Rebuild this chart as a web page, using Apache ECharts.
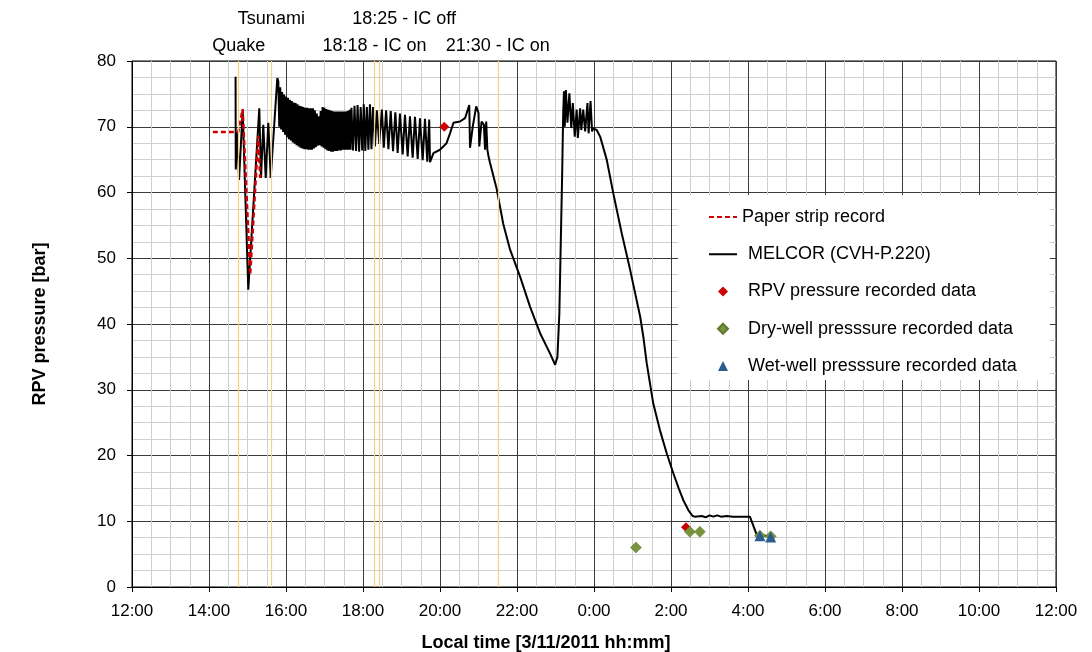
<!DOCTYPE html>
<html lang="en">
<head>
<meta charset="utf-8">
<title>RPV pressure</title>
<script src="https://cdn.jsdelivr.net/npm/echarts@6/dist/echarts.min.js"></script>
<style>
  html, body { margin: 0; padding: 0; background: #fff; }
  #chart { width: 1092px; height: 652px; }
</style>
</head>
<body>
<div id="chart"></div>
<script>
// time in hours from 0:00 on 3/11 (12 = 12:00, 36 = 12:00 next day)
var paperStrip = [[14.10, 69.2], [14.76, 69.2], [14.875, 72.7], [15.07, 47.5], [15.28, 68.6], [15.33, 62.2]];

var melcorStart = [
  [14.69, 77.6], [14.695, 63.5], [14.74, 69.2], [14.78, 61.9], [14.875, 72.5], [15.02, 45.2],
  [15.306, 72.8], [15.351, 62.2], [15.41, 70.3], [15.473, 62.2], [15.54, 70.6], [15.603, 62.2],
  [15.774, 77.4]
];
var melcorBand = [
  [15.80, 76.9], [15.825, 70.0], [15.85, 76.0], [15.875, 69.6], [15.90, 75.3], [15.925, 69.2],
  [15.95, 74.9], [15.975, 68.8], [16.00, 74.6], [16.025, 68.4], [16.05, 74.4], [16.075, 68.1],
  [16.10, 74.1], [16.125, 67.9], [16.15, 73.9], [16.175, 67.6], [16.20, 73.7], [16.225, 67.4],
  [16.25, 73.6], [16.275, 67.2], [16.30, 73.4], [16.325, 67.0], [16.35, 73.2], [16.375, 66.8],
  [16.40, 73.1], [16.425, 66.7], [16.45, 73.0], [16.475, 66.6], [16.50, 72.9], [16.525, 66.6],
  [16.55, 72.9], [16.575, 66.5], [16.60, 72.8], [16.625, 66.5], [16.65, 72.8], [16.675, 66.5],
  [16.70, 72.8], [16.725, 66.7], [16.75, 72.5], [16.775, 66.9], [16.80, 72.0], [16.825, 67.1],
  [16.85, 71.6], [16.875, 67.2], [16.90, 72.4], [16.925, 67.0], [16.95, 73.0], [16.975, 66.8],
  [17.00, 72.9], [17.025, 66.6], [17.05, 72.7], [17.075, 66.4], [17.10, 72.6], [17.125, 66.3],
  [17.15, 72.5], [17.175, 66.2], [17.20, 72.4], [17.225, 66.2], [17.25, 72.3], [17.275, 66.3],
  [17.30, 72.3], [17.325, 66.3], [17.35, 72.3], [17.375, 66.4], [17.40, 72.3], [17.425, 66.4],
  [17.45, 72.3], [17.475, 66.5], [17.50, 72.3], [17.525, 66.5], [17.55, 72.3], [17.575, 66.5],
  [17.60, 72.4], [17.625, 66.5], [17.65, 72.6], [17.675, 66.5], [17.70, 72.9], [17.74, 66.4],
  [17.78, 73.2], [17.82, 66.3], [17.86, 73.3], [17.90, 66.2], [17.94, 73.0], [17.98, 66.4],
  [18.02, 73.4], [18.06, 66.3], [18.10, 73.0], [18.14, 66.5], [18.18, 73.4], [18.22, 66.6]
];
var melcorTeeth = [
  [18.26, 73.0], [18.31, 67.0], [18.36, 72.5], [18.42, 67.4], [18.49, 72.6], [18.54, 66.8],
  [18.60, 72.5], [18.66, 66.6], [18.72, 72.4], [18.78, 66.3], [18.84, 72.2], [18.90, 66.0],
  [18.96, 72.0], [19.03, 65.8], [19.09, 71.8], [19.16, 65.5], [19.22, 71.6], [19.29, 65.3],
  [19.35, 71.5], [19.42, 65.1], [19.48, 71.3], [19.55, 64.9], [19.61, 71.2], [19.67, 64.7],
  [19.72, 71.1], [19.74, 64.6]
];
var melcorLate = [
  [19.83, 66.0], [20.00, 66.5], [20.17, 67.5], [20.26, 69.0], [20.35, 70.6], [20.52, 70.8],
  [20.65, 71.3], [20.76, 73.3], [20.78, 66.8], [20.85, 70.0], [20.94, 73.1], [21.00, 72.1],
  [21.02, 67.0], [21.08, 70.8], [21.14, 70.3], [21.17, 66.5], [21.20, 70.8], [21.23, 66.5],
  [21.26, 65.5], [21.30, 64.5], [21.47, 60.6], [21.64, 55.3], [21.82, 51.3], [22.08, 47.2],
  [22.34, 42.6], [22.60, 38.6], [22.86, 35.5], [22.99, 33.8], [23.05, 35.0], [23.10, 41.6],
  [23.135, 51.8], [23.17, 61.9], [23.20, 72.1], [23.22, 75.4], [23.24, 70.0], [23.27, 75.6],
  [23.31, 70.6], [23.36, 75.1], [23.41, 69.8], [23.45, 73.6], [23.50, 68.5], [23.55, 72.6],
  [23.58, 68.3], [23.64, 72.8], [23.67, 69.5], [23.72, 72.6], [23.77, 69.3], [23.83, 73.6],
  [23.86, 69.0], [23.91, 73.9], [23.95, 69.3], [23.98, 69.8], [24.07, 69.5], [24.16, 68.5],
  [24.33, 65.0], [24.50, 59.9], [24.72, 53.8], [24.94, 48.2], [25.20, 41.1], [25.28, 38.1],
  [25.37, 34.0], [25.54, 27.9], [25.71, 23.9], [25.89, 20.3], [26.06, 17.3], [26.20, 15.0],
  [26.32, 13.2], [26.45, 11.7], [26.56, 10.8], [26.62, 10.7], [26.80, 10.8], [26.90, 10.6],
  [27.00, 10.9], [27.10, 10.7], [27.20, 10.9], [27.30, 10.7], [27.45, 10.8], [27.60, 10.7],
  [27.80, 10.7], [28.05, 10.7], [28.23, 7.9], [28.45, 7.8], [28.66, 7.7]
];

var rpvData = [[20.11, 70.0], [26.39, 9.1]];
var dryData = [[25.09, 6.0], [26.49, 8.4], [26.75, 8.4], [28.31, 7.8], [28.59, 7.7]];
var wetData = [[28.31, 7.8], [28.59, 7.6]];

var eventTimes = [14.767, 15.617, 18.30, 18.417, 21.5];
var eventNames = ['Quake', 'Tsunami', '18:18 - IC on', '18:25 - IC off', '21:30 - IC on'];
var eventRow = [0, 1, 0, 1, 0];

var font = 'Liberation Sans, Arial, sans-serif';
var melcor = melcorStart.concat(melcorBand, melcorTeeth, melcorLate);

var eventLines = eventTimes.map(function (t, i) {
    return {
        xAxis: t,
        label: {
            formatter: eventNames[i],
            distance: eventRow[i] ? 33 : 6,
            offset: [i === 3 ? 25 : 0, 0]
        }
    };
});

var noDot = { color: 'rgba(0,0,0,0)', borderWidth: 0 };
var textShift = { padding: [0, 0, 0, 6] };

var myChart = echarts.init(document.getElementById('chart'));
var option = {
    animation: false,
    textStyle: { fontFamily: font },
    grid: {
        left: 132, right: 36, top: 61, bottom: 65,
        outerBoundsMode: 'none', containLabel: false,
        show: true, borderColor: '#000', borderWidth: 1
    },
    legend: {
        orient: 'vertical',
        left: 678,
        top: 195,
        padding: [13, 33, 5, 30],
        backgroundColor: '#fff',
        itemWidth: 28,
        itemHeight: 10,
        itemGap: 19.25,
        symbolKeepAspect: true,
        textStyle: { fontSize: 18, color: '#000', fontFamily: font, lineHeight: 18 },
        data: [
            { name: 'Paper strip record', itemStyle: noDot },
            { name: 'MELCOR (CVH-P.220)', itemStyle: noDot, textStyle: textShift },
            { name: 'RPV pressure recorded data', icon: 'path://M0,-1L1,0L0,1L-1,0Z', textStyle: textShift },
            { name: 'Dry-well presssure recorded data', icon: 'path://M0,-1L1,0L0,1L-1,0Z', textStyle: textShift },
            { name: 'Wet-well presssure recorded data', icon: 'path://M0,-1L1,1L-1,1Z', textStyle: textShift }
        ]
    },
    xAxis: {
        type: 'value',
        min: 12,
        max: 36,
        interval: 2,
        name: 'Local time [3/11/2011 hh:mm]',
        nameLocation: 'middle',
        nameGap: 47,
        nameTextStyle: { fontSize: 18, fontWeight: 'bold', color: '#000', padding: [0, 96, 0, 0] },
        axisLine: { lineStyle: { color: '#000', width: 1 } },
        axisTick: { inside: false, length: 5, lineStyle: { color: '#000' } },
        axisLabel: {
            fontSize: 17, color: '#000', margin: 16,
            formatter: function (v) { return (v % 24) + ':00'; }
        },
        splitLine: { lineStyle: { color: '#3a3a3a', width: 1 } },
        minorTick: { show: false, splitNumber: 4 },
        minorSplitLine: { show: true, lineStyle: { color: '#cfcfcf', width: 1 } }
    },
    yAxis: {
        type: 'value',
        min: 0,
        max: 80,
        interval: 10,
        name: 'RPV pressure [bar]',
        nameLocation: 'middle',
        nameGap: 83,
        nameTextStyle: { fontSize: 18, fontWeight: 'bold', color: '#000' },
        axisLine: { show: true, lineStyle: { color: '#000', width: 1 } },
        axisTick: { show: true, length: 5, lineStyle: { color: '#000' } },
        axisLabel: { fontSize: 17, color: '#000', margin: 16 },
        splitLine: { lineStyle: { color: '#3a3a3a', width: 1 } },
        minorTick: { show: false, splitNumber: 4 },
        minorSplitLine: { show: true, lineStyle: { color: '#cfcfcf', width: 1 } }
    },
    series: [
        {
            name: 'events',
            type: 'line',
            data: [],
            z: 1,
            silent: true,
            markLine: {
                silent: true,
                symbol: ['none', 'none'],
                lineStyle: { color: '#f7cf86', width: 1.2, type: 'solid' },
                label: { show: true, position: 'end', color: '#000', fontSize: 18, fontFamily: font },
                data: eventLines
            }
        },
        {
            name: 'MELCOR (CVH-P.220)',
            type: 'line',
            data: melcor,
            showSymbol: false,
            symbol: 'none',
            lineStyle: { color: '#000', width: 2 },
            itemStyle: { color: '#000' },
            z: 3
        },
        {
            name: 'Paper strip record',
            type: 'line',
            data: paperStrip,
            showSymbol: false,
            symbol: 'none',
            lineStyle: { color: '#d00000', width: 2.5, type: [5, 3] },
            itemStyle: { color: '#d00000' },
            z: 4
        },
        {
            name: 'RPV pressure recorded data',
            type: 'scatter',
            data: rpvData,
            symbol: 'diamond',
            symbolSize: 10,
            itemStyle: { color: '#cc0000', opacity: 1 },
            z: 5
        },
        {
            name: 'Dry-well presssure recorded data',
            type: 'scatter',
            data: dryData,
            symbol: 'diamond',
            symbolSize: 11,
            itemStyle: { color: '#77933c', borderColor: '#5f7a2e', borderWidth: 0.5, opacity: 1 },
            z: 5
        },
        {
            name: 'Wet-well presssure recorded data',
            type: 'scatter',
            data: wetData,
            symbol: 'triangle',
            symbolSize: 11,
            itemStyle: { color: '#2c5d8f', opacity: 1 },
            z: 6
        }
    ]
};
myChart.setOption(option);
</script>
</body>
</html>
